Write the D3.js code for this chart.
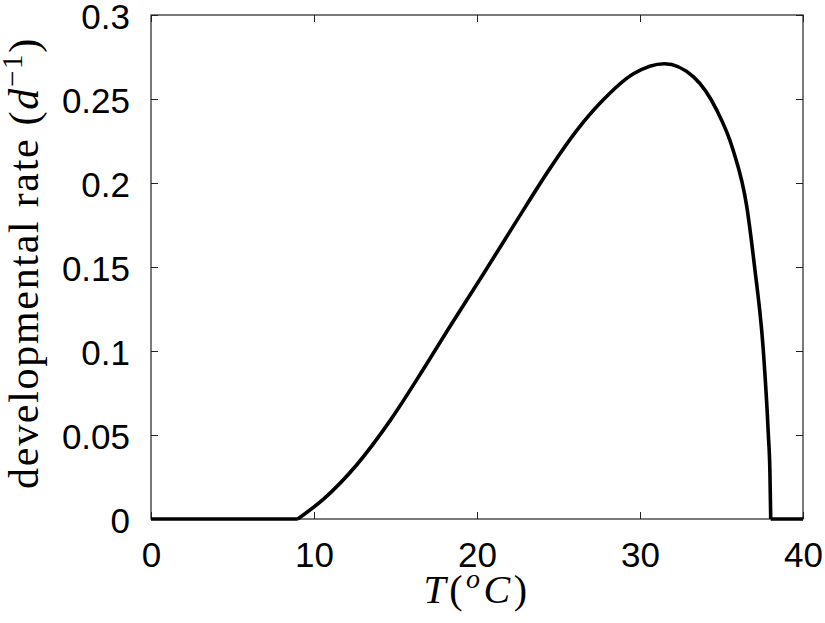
<!DOCTYPE html>
<html>
<head>
<meta charset="utf-8">
<script src="https://cdn.jsdelivr.net/npm/d3@7/dist/d3.min.js"></script>
<style>
  body { margin: 0; background: #fff; }
  svg { display: block; }
  .tick text { font-family: "Liberation Sans", Arial, sans-serif; font-size: 35px; fill: #000; }
  .tick line { stroke: #222; stroke-width: 1; }
  .lbl { font-family: "Liberation Serif", "Times New Roman", serif; fill: #000; }
</style>
</head>
<body>
<script>
// temperature (deg C) and developmental rate (1/day)
const curveTemps = [9.0, 10.6, 12.6, 14.7, 16.7, 18.3, 20.4, 22.4, 24.5, 26.1, 27.6, 29.6,
                    31.5, 33.3, 34.7, 35.7, 36.55, 37.03, 37.56, 37.87, 37.97, 38.02];
const curveRates = [0, 0.012, 0.032, 0.059, 0.089, 0.114, 0.146, 0.177, 0.209, 0.231, 0.248, 0.265,
                    0.271, 0.263, 0.2435, 0.220, 0.186, 0.150, 0.101, 0.051, 0.028, 0];
// flat parts where the rate is zero
const lowTemps = [0, 9.0];
const highTemps = [38.02, 40];

const xTicks = [0, 10, 20, 30, 40];
const yTicks = [0, 0.05, 0.1, 0.15, 0.2, 0.25, 0.3];

const width = 825;
const height = 623;
const margin = {left: 151, right: 22, top: 15, bottom: 104};

const svg = d3.select('body').append('svg').
    attr('width', width).
    attr('height', height);

const x = d3.scaleLinear().domain([0, 40]).range([margin.left, width - margin.right]);
const y = d3.scaleLinear().domain([0, 0.3]).range([height - margin.bottom, margin.top]);

const fmtY = d => d === 0 ? '0' : String(+d.toFixed(2));

// left axis with labels
svg.append('g').
    attr('transform', `translate(${margin.left},0)`).
    call(d3.axisLeft(y).tickValues(yTicks).tickFormat(fmtY).tickSizeInner(-7).tickSizeOuter(0).tickPadding(21)).
    call(g => g.select('.domain').remove()).
    call(g => g.selectAll('text').attr('dy', '0.38em'));

// right mirror ticks
svg.append('g').
    attr('transform', `translate(${width - margin.right},0)`).
    call(d3.axisRight(y).tickValues(yTicks).tickFormat('').tickSizeInner(-7).tickSizeOuter(0)).
    call(g => g.select('.domain').remove());

// bottom axis with labels
svg.append('g').
    attr('transform', `translate(0,${height - margin.bottom})`).
    call(d3.axisBottom(x).tickValues(xTicks).tickFormat(d3.format('d')).tickSizeInner(-7).tickSizeOuter(0).tickPadding(23)).
    call(g => g.select('.domain').remove());

// top mirror ticks
svg.append('g').
    attr('transform', `translate(0,${margin.top})`).
    call(d3.axisTop(x).tickValues(xTicks).tickFormat('').tickSizeInner(-7).tickSizeOuter(0)).
    call(g => g.select('.domain').remove());

// frame
svg.append('rect').
    attr('x', x(0)).
    attr('y', y(0.3)).
    attr('width', x(40) - x(0)).
    attr('height', y(0) - y(0.3)).
    attr('fill', 'none').
    attr('stroke', '#222').
    attr('stroke-width', 1.2);

const curvePts = curveTemps.map((t, i) => [t, curveRates[i]]);

const smooth = d3.line().x(d => x(d[0])).y(d => y(d[1])).curve(d3.curveMonotoneX);
const flat = d3.line().x(d => x(d)).y(() => y(0));

const lineStyle = sel => sel.
    attr('fill', 'none').
    attr('stroke', '#000').
    attr('stroke-width', 3.6).
    attr('stroke-linejoin', 'round');

svg.append('path').attr('d', flat(lowTemps)).call(lineStyle);
svg.append('path').attr('d', flat(highTemps)).call(lineStyle);
svg.append('path').attr('d', smooth(curvePts)).call(lineStyle);

// x label: T(°C) in LaTeX style
const xl = svg.append('text').
    attr('class', 'lbl').
    attr('x', 477).
    attr('y', 603).
    attr('text-anchor', 'middle').
    attr('font-size', 40).
    attr('letter-spacing', 3.5);
xl.append('tspan').attr('font-style', 'italic').text('T');
xl.append('tspan').text('(');
xl.append('tspan').attr('font-style', 'italic').attr('font-size', 28).attr('dy', -15).text('o');
xl.append('tspan').attr('font-style', 'italic').attr('dy', 15).text('C');
xl.append('tspan').text(')');

// y label
const yl = svg.append('text').
    attr('class', 'lbl').
    attr('transform', 'translate(38,263) rotate(-90)').
    attr('text-anchor', 'middle').
    attr('font-size', 42).
    attr('letter-spacing', 1.7);
yl.append('tspan').text('developmental rate (');
yl.append('tspan').attr('font-style', 'italic').text('d');
yl.append('tspan').attr('font-size', 29).attr('dy', -16).text('\u22121');
yl.append('tspan').attr('dy', 16).text(')');
</script>
</body>
</html>
